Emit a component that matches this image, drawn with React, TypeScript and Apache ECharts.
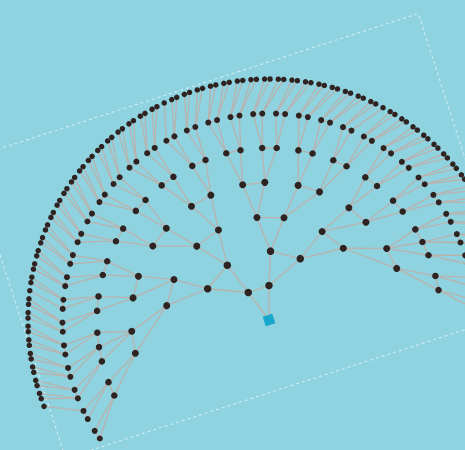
import React, { useEffect, useRef } from "react";
import * as echarts from "echarts";

// Tree structure: number of children of each node, level by level
const CHILDREN_L0 = [2];
const CHILDREN_L1 = [2, 2];
const CHILDREN_L2 = [2, 2, 2, 2];
const CHILDREN_L3 = [2, 2, 2, 2, 2, 2, 2, 2];
const CHILDREN_L4 = [2, 3, 2, 2, 2, 2, 2, 2, 2, 2, 2, 2, 2, 2, 3, 2];
const CHILDREN_L5 = [
  2, 2, 2, 2, 2, 2, 2, 2, 2, 2,
  2, 2, 2, 2, 2, 2, 2, 2, 2, 2,
  2, 2, 2, 2, 2, 2, 2, 2, 2, 2,
  2, 2, 2, 2,
];
const CHILDREN_L6 = [
  0, 0, 0, 1, 2, 2, 2, 2, 2, 2,
  2, 2, 1, 2, 2, 2, 2, 2, 2, 2,
  2, 2, 2, 2, 2, 2, 2, 2, 2, 2,
  1, 2, 2, 2, 2, 2, 2, 2, 2, 2,
  2, 2, 2, 2, 2, 2, 2, 1, 2, 2,
  2, 2, 2, 2, 2, 2, 2, 2, 2, 2,
  2, 2, 2, 2, 1, 2, 2, 2,
];
const CHILD_COUNTS = [
  CHILDREN_L0, CHILDREN_L1, CHILDREN_L2, CHILDREN_L3,
  CHILDREN_L4, CHILDREN_L5, CHILDREN_L6,
];

// Angle (degrees, counter-clockwise from east) of the first and last node of each depth level
const LEVEL_START = [108, 127, 153, 172, 194, 206, 215, 201];
const LEVEL_END = [108, 90, 63, 44, 22, 10, 3, -2];
const SIBLING_GAP = 1;
const COUSIN_GAP = 1.5;

const NODE_SIZE = [10, 7.5, 7.5, 7, 7, 6.5, 6, 5.5];

type Item = { parent: number };

function buildTree() {
  const levels: Item[][] = [[{ parent: -1 }]];
  CHILD_COUNTS.forEach((counts) => {
    const next: Item[] = [];
    counts.forEach((c, i) => {
      for (let k = 0; k < c; k++) next.push({ parent: i });
    });
    levels.push(next);
  });
  const angles: number[][] = levels.map((lvl, d) => {
    const pos: number[] = [];
    lvl.forEach((n, j) => {
      if (j === 0) pos.push(0);
      else pos.push(pos[j - 1] + (lvl[j - 1].parent === n.parent ? SIBLING_GAP : COUSIN_GAP));
    });
    const total = pos[pos.length - 1];
    const a0 = LEVEL_START[d];
    const a1 = LEVEL_END[d];
    return pos.map((p) => (total > 0 ? a0 + (p / total) * (a1 - a0) : a0));
  });
  const nodes: number[][] = [];
  const edges: number[][] = [];
  levels.forEach((lvl, d) => {
    if (d === 0) return;
    lvl.forEach((n, j) => {
      nodes.push([d, angles[d][j]]);
      edges.push([d - 1, angles[d - 1][n.parent], d, angles[d][j]]);
      if (j + 1 < lvl.length && lvl[j + 1].parent === n.parent) {
        edges.push([d, angles[d][j], d, angles[d][j + 1]]);
      }
    });
  });
  return { nodes, edges };
}

export default function App() {
  const ref = useRef<HTMLDivElement>(null);
  useEffect(() => {
    if (!ref.current) return;
    const chart = echarts.init(ref.current, undefined, { renderer: "svg" });
    const { nodes, edges } = buildTree();
    chart.setOption({
      animation: false,
      backgroundColor: "#8fd3e1",
      polar: { center: [269, 320], radius: 241 },
      angleAxis: {
        type: "value",
        min: -180,
        max: 180,
        startAngle: 180,
        clockwise: false,
        show: false,
        axisLine: { show: false },
        axisTick: { show: false },
        axisLabel: { show: false },
        splitLine: { show: false },
      },
      radiusAxis: {
        type: "value",
        min: 0,
        max: 7,
        show: false,
        axisLine: { show: false },
        axisTick: { show: false },
        axisLabel: { show: false },
        splitLine: { show: false },
      },
      graphic: [
        {
          type: "rect",
          x: 242,
          y: 236,
          rotation: (17.9 * Math.PI) / 180,
          shape: { x: -236, y: -157.5, width: 472, height: 315 },
          style: {
            fill: "none",
            stroke: "rgba(255,255,255,0.65)",
            lineWidth: 1,
            lineDash: [3, 3],
          },
          silent: true,
          z: 0,
        },
      ],
      series: [
        {
          type: "custom",
          coordinateSystem: "polar",
          data: edges,
          encode: { radius: [0, 2], angle: [1, 3] },
          silent: true,
          z: 1,
          renderItem: (params: any, api: any) => {
            const p1 = api.coord([api.value(0), api.value(1)]);
            const p2 = api.coord([api.value(2), api.value(3)]);
            return {
              type: "line",
              shape: { x1: p1[0], y1: p1[1], x2: p2[0], y2: p2[1] },
              style: { stroke: "#bab2ad", lineWidth: 1.3 },
            };
          },
        },
        {
          type: "scatter",
          coordinateSystem: "polar",
          data: nodes,
          symbol: "circle",
          symbolSize: (v: number[]) => NODE_SIZE[v[0]],
          itemStyle: { color: "#2e2321", opacity: 1 },
          z: 2,
        },
        {
          type: "scatter",
          coordinateSystem: "polar",
          data: [[0, 108]],
          symbol: "rect",
          symbolSize: 10,
          symbolRotate: 18,
          itemStyle: { color: "#17a6cc", opacity: 1 },
          z: 3,
        },
      ],
    });
    return () => chart.dispose();
  }, []);
  return (
    <div
      ref={ref}
      style={{ position: "absolute", left: 0, top: 0, width: 465, height: 450 }}
    />
  );
}
